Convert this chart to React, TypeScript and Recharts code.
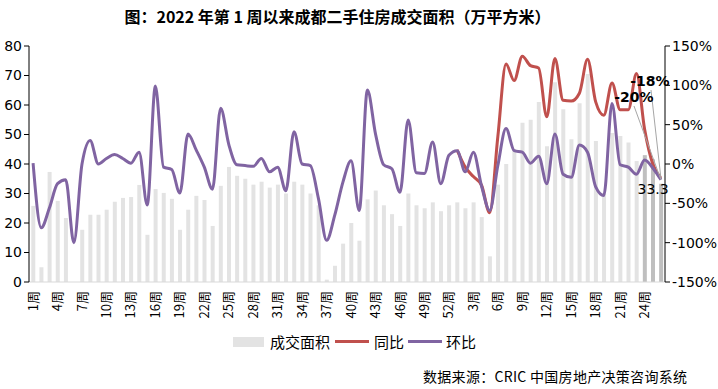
import { ComposedChart, Bar, Line, XAxis, YAxis, Cell, LabelList } from "recharts";

const weekNums = [
  1, 2, 3, 4, 5, 6, 7, 8, 9, 10, 11, 12, 13, 14, 15, 16, 17, 18, 19, 20, 21, 22, 23, 24, 25, 26,
  27, 28, 29, 30, 31, 32, 33, 34, 35, 36, 37, 38, 39, 40, 41, 42, 43, 44, 45, 46, 47, 48, 49, 50, 51, 52,
  1, 2, 3, 4, 5, 6, 7, 8, 9, 10, 11, 12, 13, 14, 15, 16, 17, 18, 19, 20, 21, 22, 23, 24, 25, 26,
];

// 成交面积（万平方米）
const area = [
  25.8, 5.0, 37.3, 27.5, 21.7, 0, 17.7, 22.8, 22.8, 24.5, 27.2, 28.5, 28.8, 32.9, 16.0, 31.5, 30.2, 28.2, 17.7, 24.5, 29.2, 27.8, 19.0, 32.6,
  39, 36, 35, 33, 34, 32, 33, 30, 34, 33, 30, 26,
  0.8, 5.5, 13, 20, 14, 28, 31, 26, 23, 19, 30, 26, 25, 27, 24, 26,
  27, 25, 27, 22, 8.7, 33, 40, 45,
  54, 55, 61, 46, 67.7, 58.6, 48.4, 60.6, 70.5, 47.8, 30, 50.5, 49.5, 47.3, 41, 43, 41.6, 33.3,
];

// 同比 (%), 2023 only
const yoy = [
  null, null, null, null, null, null, null, null, null, null, null, null, null, null, null, null, null, null, null, null, null, null, null, null, null, null,
  null, null, null, null, null, null, null, null, null, null, null, null, null, null, null, null, null, null, null, null, null, null, null, null, null, null,
  18, -4, -16, -27, -62, 35, 127, 106, 137, 125, 122, 60, 134, 81, 80, 90, 133, 79, 62, 103, 69, 69, 115, 44, 0, -18,
];

// 环比 (%)
const mom = [
  1, -81, -56, -25, -20, -100, 0, 30, 0, 7, 12, 7, 1, 15, -52, 99, -4, -7, -37, 38, 18, -4, -32, 71,
  25, -1, -2, -3, 7, -10, -4, -34, 41, 0, -2, -44,
  -97, -65, -23, 4, -59, 94, 38, -1, -6, -36, 56, -11, -12, 28, -25, 11,
  17, -10, 15, -28, -59, -2, 45, 17, 15, 1, 10, -25, 38, -13, -17, 24, 15, -29, -40, 77, -1, -4, -13, 5, -5, -20,
];

const leftTicks = [0, 10, 20, 30, 40, 50, 60, 70, 80];
const rightTicks = [-150, -100, -50, 0, 50, 100, 150];

const data = weekNums.map((w, i) => ({
  week: `${w}周`,
  area: area[i],
  yoy: yoy[i],
  mom: mom[i],
}));

const font = "'Noto Sans CJK SC', sans-serif";
const numFont = "'DejaVu Sans', sans-serif";
const lastIdx = data.length - 1;

function WeekTick(props: any) {
  const { x, y, payload } = props;
  return (
    <text
      transform={`translate(${x},${y + 1}) rotate(-90)`}
      textAnchor="end"
      dy="0.35em"
      fontSize={13}
      fontFamily={font}
      fill="#000"
    >
      {payload.value}
    </text>
  );
}

// only the latest bar carries its value
function BarLabel(props: any) {
  const { x, y, width, value } = props;
  const cx = Number(x) + Number(width) / 2;
  if (!(cx > 655)) return null;
  return (
    <text x={cx - 8} y={Number(y) + 6} textAnchor="middle" dominantBaseline="middle" fontSize={14} fontFamily={numFont} fill="#000">
      {value}
    </text>
  );
}

function makeLineLabel(dx: number, ty: number, lx: number, ly: number) {
  return (props: any) => {
    const { x, y, index, value } = props;
    if (index !== lastIdx) return null;
    return (
      <g>
        <line x1={lx} y1={ly} x2={x} y2={y} stroke="#a6a6a6" strokeWidth={1} />
        <text x={x + dx} y={ty} textAnchor="middle" dominantBaseline="middle" fontSize={14} fontWeight="bold" fontFamily={numFont} fill="#000">
          {`${value}%`}
        </text>
      </g>
    );
  };
}

export default function App() {
  return (
    <div style={{ position: "absolute", left: 0, top: 0, width: 718, height: 389, background: "#fff", fontFamily: font }}>
      <div style={{ position: "absolute", left: 0, width: 675, top: 4, textAlign: "center", fontSize: 16, fontWeight: "bold", color: "#000", whiteSpace: "nowrap" }}>
        图：2022 年第 1 周以来成都二手住房成交面积（万平方米）
      </div>
      <ComposedChart width={718} height={389} data={data} margin={{ top: 46, right: 0, bottom: 0, left: 0 }} barCategoryGap="28%">
        <XAxis
          dataKey="week"
          interval={2}
          height={107}
          tickLine={false}
          axisLine={{ stroke: "#d9d9d9" }}
          tick={<WeekTick />}
        />
        <YAxis
          yAxisId="left"
          domain={[0, 80]}
          ticks={leftTicks}
          width={29}
          tickSize={5}
          axisLine={{ stroke: "#000" }}
          tickLine={{ stroke: "#000" }}
          tick={{ fontSize: 14, fill: "#000", fontFamily: numFont }}
        />
        <YAxis
          yAxisId="right"
          orientation="right"
          domain={[-150, 150]}
          ticks={rightTicks}
          width={53}
          tickSize={5}
          tickFormatter={(v: number) => `${v}%`}
          axisLine={{ stroke: "#000" }}
          tickLine={{ stroke: "#000" }}
          tick={{ fontSize: 14, fill: "#000", fontFamily: numFont }}
        />
        <Bar yAxisId="left" dataKey="area" isAnimationActive={false}>
          {data.map((d, i) => (
            <Cell key={i} fill={i >= lastIdx - 2 ? "#bfbfbf" : "#e3e3e3"} />
          ))}
          <LabelList dataKey="area" content={BarLabel} />
        </Bar>
        <Line
          yAxisId="right"
          dataKey="yoy"
          type="monotone"
          stroke="#c0504d"
          strokeWidth={3}
          dot={false}
          isAnimationActive={false}
          label={makeLineLabel(-11, 82, 651, 90)}
        />
        <Line
          yAxisId="right"
          dataKey="mom"
          type="monotone"
          stroke="#8064a2"
          strokeWidth={3}
          dot={false}
          isAnimationActive={false}
          label={makeLineLabel(-27, 98, 634, 106)}
        />
      </ComposedChart>
      {/* Legend */}
      <div style={{ position: "absolute", top: 331, left: 233, display: "flex", alignItems: "center", fontSize: 15, color: "#000", whiteSpace: "nowrap" }}>
        <span style={{ display: "inline-block", width: 31, height: 10, background: "#e3e3e3", marginRight: 6 }} />
        <span style={{ marginRight: 5 }}>成交面积</span>
        <span style={{ display: "inline-block", width: 34, height: 3, background: "#c0504d", marginRight: 5 }} />
        <span style={{ marginRight: 4 }}>同比</span>
        <span style={{ display: "inline-block", width: 34, height: 3, background: "#8064a2", marginRight: 4 }} />
        <span>环比</span>
      </div>
      <div style={{ position: "absolute", top: 366, left: 423, fontSize: 14, letterSpacing: 0.3, color: "#000", whiteSpace: "nowrap" }}>
        数据来源：CRIC 中国房地产决策咨询系统
      </div>
    </div>
  );
}
